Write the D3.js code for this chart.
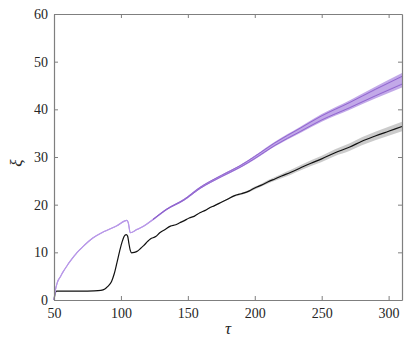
<!DOCTYPE html>
<html>
<head>
	<meta http-equiv="Content-Type" content="text/html;charset=utf-8">
	<title>xi vs tau</title>
	<script src="https://d3js.org/d3.v7.min.js"></script>
	<style type="text/css">
		body { margin: 0; background: #fff; }
		text { font-family: "Liberation Serif", "DejaVu Serif", serif; fill: #262626; }
		.axis path, .axis line { stroke: #7f7f7f; }
	</style>
</head>
<body>
	<svg width="413" height="348"></svg>

	<script type="text/javascript">
		// purple run
		var tauP = [50, 51, 52.5, 55, 57, 60, 62, 65, 67, 72, 79, 87, 97, 104.5, 105.5, 107, 112, 117, 124, 134, 147, 159, 175, 189, 200, 215, 234, 250, 271, 290, 310];
		var xiP  = [0, 2.0, 3.7, 5.0, 6.0, 7.3, 8.1, 9.2, 9.9, 11.3, 13.0, 14.3, 15.6, 16.7, 16.2, 14.1, 14.8, 15.5, 16.9, 19.0, 21.0, 23.5, 26.0, 28.0, 29.9, 32.7, 35.7, 38.2, 40.9, 43.5, 46.1];
		var sprP = [0, 0, 0, 0, 0, 0, 0, 0, 0, 0, 0, 0, 0, 0, 0, 0, 0.05, 0.05, 0.1, 0.1, 0.15, 0.2, 0.25, 0.3, 0.4, 0.5, 0.65, 0.8, 1.0, 1.25, 1.5];

		// black run
		var tauK = [50, 51, 52, 60, 70, 80, 85, 88, 90, 93, 95, 97, 99, 101, 103, 104, 105, 106, 107, 108, 110, 112, 115, 117, 120, 122, 126, 129, 133, 137, 141, 144, 147, 151, 155, 159, 163, 166, 170, 175, 180, 185, 190, 196, 200, 205, 210, 215, 220, 227, 234, 242, 250, 260, 271, 280, 290, 300, 310];
		var xiK  = [0, 1.5, 1.85, 1.85, 1.85, 1.9, 2.0, 2.3, 2.8, 3.9, 5.5, 7.8, 10.2, 12.3, 13.6, 13.7, 13.4, 11.8, 10.4, 9.9, 10.0, 10.2, 10.9, 11.4, 12.3, 12.8, 13.3, 14.1, 14.8, 15.5, 15.8, 16.2, 16.6, 17.2, 17.6, 18.3, 18.8, 19.3, 19.8, 20.5, 21.2, 21.9, 22.3, 22.9, 23.5, 24.1, 24.8, 25.4, 26.0, 26.8, 27.7, 28.7, 29.6, 30.9, 32.1, 33.3, 34.4, 35.4, 36.4];
		var sprK = [0, 0, 0, 0, 0, 0, 0, 0, 0, 0, 0, 0, 0, 0, 0, 0, 0, 0, 0, 0, 0, 0, 0, 0, 0, 0, 0, 0, 0, 0, 0, 0, 0, 0, 0.05, 0.05, 0.05, 0.1, 0.1, 0.1, 0.15, 0.2, 0.2, 0.25, 0.3, 0.3, 0.35, 0.4, 0.45, 0.5, 0.55, 0.6, 0.65, 0.7, 0.8, 0.85, 0.9, 0.95, 1.0];

		var xTicks = [50, 100, 150, 200, 250, 300];
		var yTicks = [0, 10, 20, 30, 40, 50, 60];

		var svg = d3.select("svg");
		var L = 54, R = 402, T = 14, B = 300;
		var x = d3.scaleLinear().domain([50, 310]).range([L, R]);
		var y = d3.scaleLinear().domain([0, 60]).range([B, T]);

		function rows(t, v, s) {
			return t.map(function (d, i) { return { t: d, v: v[i], s: s[i] }; });
		}
		var P = rows(tauP, xiP, sprP), K = rows(tauK, xiK, sprK);

		var band = d3.area()
			.x(function (d) { return x(d.t); })
			.y0(function (d) { return y(d.v - d.s); })
			.y1(function (d) { return y(d.v + d.s); })
			.curve(d3.curveMonotoneX);
		function offLine(k) {
			return d3.line()
				.x(function (d) { return x(d.t); })
				.y(function (d) { return y(d.v + k * d.s); })
				.curve(d3.curveMonotoneX);
		}

		var plot = svg.append("g");
		// black band + line
		plot.append("path").datum(K).attr("d", band)
			.attr("fill", "#8c8c8c").attr("fill-opacity", 0.45);
		plot.append("path").datum(K).attr("d", offLine(0))
			.attr("fill", "none").attr("stroke", "#111").attr("stroke-width", 1.2);

		// purple band + members
		plot.append("path").datum(P).attr("d", band)
			.attr("fill", "#9a70d8").attr("fill-opacity", 0.6);
		[-0.5, 0.5].forEach(function (k) {
			plot.append("path").datum(P).attr("d", offLine(k))
				.attr("fill", "none").attr("stroke", "#b898e8").attr("stroke-width", 1.1);
		});
		// darker members where the runs spread apart
		var late = P.filter(function (d) { return d.t >= 124; });
		[-0.55, 0.55].forEach(function (k) {
			plot.append("path").datum(late).attr("d", offLine(k))
				.attr("fill", "none").attr("stroke", "#8457c6").attr("stroke-opacity", 0.75).attr("stroke-width", 1);
		});

		// axes with ticks inside, box on
		svg.append("g").attr("class", "axis").attr("transform", "translate(0," + B + ")")
			.call(d3.axisBottom(x).tickValues(xTicks).tickSizeInner(-4).tickSizeOuter(0).tickPadding(8));
		svg.append("g").attr("class", "axis").attr("transform", "translate(0," + T + ")")
			.call(d3.axisTop(x).tickValues(xTicks).tickSizeInner(-4).tickSizeOuter(0).tickFormat(""));
		svg.append("g").attr("class", "axis").attr("transform", "translate(" + L + ",0)")
			.call(d3.axisLeft(y).tickValues(yTicks).tickSizeInner(-4).tickSizeOuter(0).tickPadding(6));
		svg.append("g").attr("class", "axis").attr("transform", "translate(" + R + ",0)")
			.call(d3.axisRight(y).tickValues(yTicks).tickSizeInner(-4).tickSizeOuter(0).tickFormat(""));
		svg.selectAll(".axis text").style("font-size", "14px").style("font-family", "Liberation Serif, serif").attr("fill", "#262626");
		svg.selectAll(".axis .domain").attr("stroke-width", 1.2);

		svg.append("text").attr("x", (L + R) / 2).attr("y", 334)
			.attr("text-anchor", "middle").style("font-size", "17px").style("font-style", "italic")
			.text("τ");
		svg.append("text").attr("transform", "translate(22," + ((T + B) / 2 + 6) + ") rotate(-90)")
			.attr("text-anchor", "middle").style("font-size", "17px").style("font-style", "italic")
			.text("ξ");
	</script>
</body>
</html>
